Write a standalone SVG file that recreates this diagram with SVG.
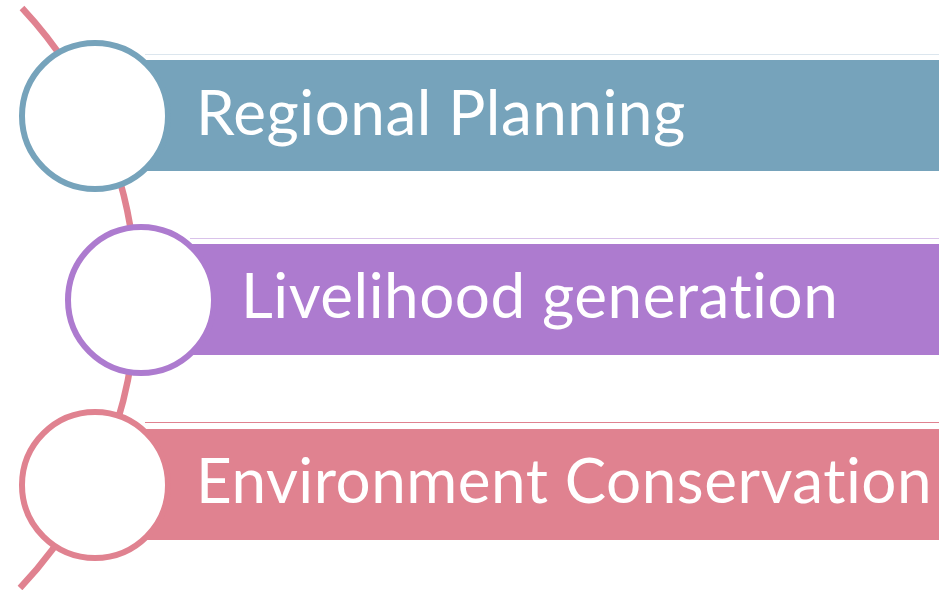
<svg xmlns="http://www.w3.org/2000/svg" width="939" height="590" viewBox="0 0 939 590">
<style>
.lbl{font-family:Lato,"Open Sans",sans-serif;font-size:62px;fill:#fff;font-variant-ligatures:none;letter-spacing:0.5px}
.ring{fill:#fff;stroke-width:6}
</style>
<rect width="939" height="590" fill="#fff"/>
<g id="connectors">
<path d="M22,8 A423,423 0 0 1 20,588" fill="none" stroke="#E08290" stroke-width="6.5"/>
</g>
<g id="node1">
<line x1="145" y1="54.5" x2="939" y2="54.5" stroke="#DCE6EE" stroke-width="1"/>
<rect x="145" y="60" width="794" height="111" fill="#76A3BB"/>
<circle class="ring" cx="95" cy="116" r="73" stroke="#76A3BB"/>
<text class="lbl" x="196" y="135">Regional Planning</text>
</g>
<g id="node2">
<line x1="190" y1="238.5" x2="939" y2="238.5" stroke="#D9C2EA" stroke-width="1"/>
<rect x="190" y="244" width="749" height="111" fill="#AD7BCF"/>
<circle class="ring" cx="141" cy="300" r="73" stroke="#AD7BCF"/>
<text class="lbl" x="241" y="318">Livelihood generation</text>
</g>
<g id="node3">
<line x1="145" y1="422.5" x2="939" y2="422.5" stroke="#E08290" stroke-width="1"/>
<rect x="145" y="429" width="794" height="111" fill="#E08290"/>
<circle class="ring" cx="95" cy="485" r="73" stroke="#E08290"/>
<text class="lbl" x="196" y="503">Environment Conservation</text>
</g>
</svg>
